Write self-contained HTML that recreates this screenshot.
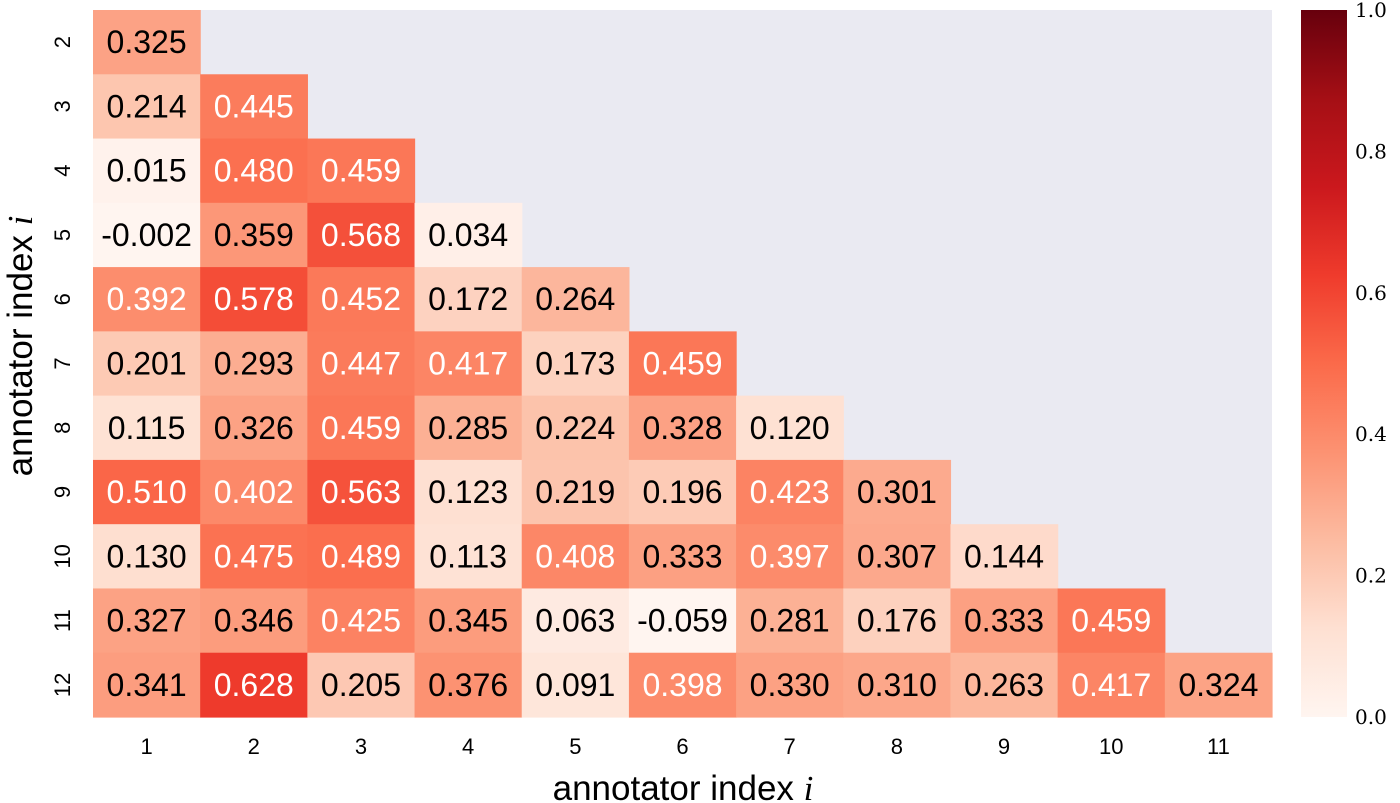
<!DOCTYPE html>
<html><head><meta charset="utf-8"><style>
html,body{margin:0;padding:0;background:#fff;}
svg{display:block;}
.s{font-family:"Liberation Sans","DejaVu Sans",sans-serif;}
</style></head><body>
<svg id="c" width="1400" height="803" xmlns="http://www.w3.org/2000/svg"></svg>
<script>
const rowLabels=["2","3","4","5","6","7","8","9","10","11","12"];
const colLabels=["1","2","3","4","5","6","7","8","9","10","11"];
const values=[
[0.325],
[0.214,0.445],
[0.015,0.480,0.459],
[-0.002,0.359,0.568,0.034],
[0.392,0.578,0.452,0.172,0.264],
[0.201,0.293,0.447,0.417,0.173,0.459],
[0.115,0.326,0.459,0.285,0.224,0.328,0.120],
[0.510,0.402,0.563,0.123,0.219,0.196,0.423,0.301],
[0.130,0.475,0.489,0.113,0.408,0.333,0.397,0.307,0.144],
[0.327,0.346,0.425,0.345,0.063,-0.059,0.281,0.176,0.333,0.459],
[0.341,0.628,0.205,0.376,0.091,0.398,0.330,0.310,0.263,0.417,0.324]];
const cbTicks=[0.0,0.2,0.4,0.6,0.8,1.0];
const stops=["#fff5f0","#fee0d2","#fcbba1","#fc9272","#fb6a4a","#ef3b2c","#cb181d","#a50f15","#67000d"];
const NS="http://www.w3.org/2000/svg";
const svg=document.getElementById('c');
const L=93,R=1272,T=10,B=717;
const cw=(R-L)/colLabels.length, rh=(B-T)/rowLabels.length;
const xs=i=>L+i*cw, ys=j=>T+j*rh;
function hex(h){return [1,3,5].map(k=>parseInt(h.substr(k,2),16));}
function cmap(v){v=Math.max(0,Math.min(1,v));const p=v*(stops.length-1);const i=Math.min(Math.floor(p),stops.length-2);const f=p-i;const a=hex(stops[i]),b=hex(stops[i+1]);return a.map((x,k)=>Math.round(x+(b[k]-x)*f));}
function lum(c){const l=c.map(x=>{x/=255;return x<=0.03928?x/12.92:Math.pow((x+0.055)/1.055,2.4);});return 0.2126*l[0]+0.7152*l[1]+0.0722*l[2];}
const thr=lum(cmap(0.385));
function mk(t,a,txt){const e=document.createElementNS(NS,t);for(const k in a)e.setAttribute(k,a[k]);if(txt!=null)e.textContent=txt;svg.appendChild(e);return e;}
const bg=mk('rect',{x:L,y:T,width:R-L,height:B-T,fill:'#eaeaf2'});


values.forEach((row,j)=>row.forEach((v,i)=>{
  const c=cmap(v);
  const r=mk('rect',{x:xs(i),y:ys(j),width:cw+0.6,height:rh+0.6,fill:`rgb(${c})`});
  
  
  const t=mk('text',{x:xs(i)+cw/2,y:ys(j)+rh/2+11,'text-anchor':'middle','font-size':32,fill:lum(c)>thr?'#000':'#fff',class:'s'},v.toFixed(3));
  
  
}));
colLabels.forEach((l,i)=>{const t=mk('text',{x:xs(i)+cw/2,y:754,'text-anchor':'middle','font-size':22,class:'s'},l);

});
rowLabels.forEach((l,j)=>{const cy=ys(j)+rh/2;const t=mk('text',{x:0,y:0,'text-anchor':'middle','font-size':22,class:'s',transform:`translate(70,${cy}) rotate(-90)`},l);

});
const xl=mk('text',{x:683,y:800,'text-anchor':'middle','font-size':35,class:'s'},'annotator index ');
const xi=document.createElementNS(NS,'tspan');xi.setAttribute('font-family','Liberation Serif, serif');xi.setAttribute('font-style','italic');xi.textContent='i';xl.appendChild(xi);


const yl=mk('text',{x:0,y:0,'text-anchor':'middle','font-size':35,class:'s',transform:'translate(32,346) rotate(-90)'},'annotator index ');
const yi=document.createElementNS(NS,'tspan');yi.setAttribute('font-family','Liberation Serif, serif');yi.setAttribute('font-style','italic');yi.textContent='i';yl.appendChild(yi);


const CX=1301,CW=46;
const defs=mk('defs',{});
const g=document.createElementNS(NS,'linearGradient');g.setAttribute('id','gr');g.setAttribute('x1','0');g.setAttribute('y1','1');g.setAttribute('x2','0');g.setAttribute('y2','0');
stops.forEach((s,k)=>{const st=document.createElementNS(NS,'stop');st.setAttribute('offset',k/(stops.length-1));st.setAttribute('stop-color',s);g.appendChild(st);});
defs.appendChild(g);
const cb=mk('rect',{x:CX,y:T,width:CW,height:B-T,fill:'url(#gr)'});


const cy=v=>B-v*(B-T);
cbTicks.forEach(v=>{const t=mk('text',{x:1355,y:cy(v)+7,'font-size':20,'font-family':'DejaVu Serif, Liberation Serif, serif'},v.toFixed(1));

});
</script>
</body></html>
